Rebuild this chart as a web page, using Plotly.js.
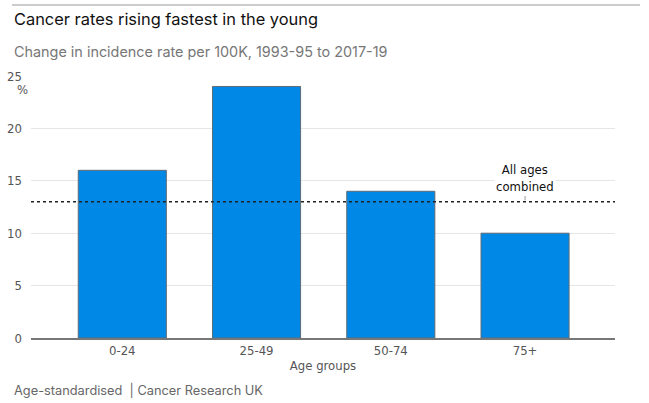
<!DOCTYPE html>
<html>
<head>
<meta charset="utf-8">
<script src="https://cdn.plot.ly/plotly-3.0.1.min.js"></script>
<style>
  html, body { margin: 0; padding: 0; background: #fff; }
  #chart { width: 649px; height: 403px; }
</style>
</head>
<body>
<div id="chart"></div>
<script>
// datos
const ageGroups = ['0-24', '25-49', '50-74', '75+'];
const changePct = [16, 24, 14, 10];
const allAgesCombined = 13;
const yTicks = [0, 5, 10, 15, 20, 25];

const narrow = '"Liberation Sans Narrow", "DejaVu Sans Condensed", Roboto, sans-serif';
const sans = 'Inter, Roboto, "Open Sans", sans-serif';

const bars = {
    type: 'bar',
    x: ageGroups,
    y: changePct,
    marker: { color: '#0088e6', line: { color: '#5f6b75', width: 1 } },
    hoverinfo: 'x+y'
};

const layout = {
    width: 649,
    height: 403,
    paper_bgcolor: '#fff',
    plot_bgcolor: '#fff',
    margin: { l: 31, r: 34, t: 76, b: 65 },
    bargap: 0.344,
    showlegend: false,
    font: { family: narrow, color: '#555', size: 13 },
    xaxis: {
        type: 'category',
        range: [-0.68, 3.67],
        showgrid: false,
        showline: true,
        linecolor: '#777',
        linewidth: 1.5,
        ticks: '',
        tickfont: { family: narrow, size: 13, color: '#555' },
        title: { text: 'Age groups', font: { family: narrow, size: 13, color: '#555' }, standoff: 4 },
        fixedrange: true
    },
    yaxis: {
        range: [0, 25],
        tickvals: yTicks,
        showgrid: true,
        gridcolor: '#e6e6e6',
        gridwidth: 1,
        zeroline: false,
        showline: false,
        ticks: '',
        ticklabelstandoff: 8,
        tickfont: { family: narrow, size: 13, color: '#555' },
        fixedrange: true
    },
    shapes: [
        {
            type: 'line', xref: 'paper', yref: 'y',
            x0: 0, x1: 1, y0: allAgesCombined, y1: allAgesCombined,
            line: { color: '#222', width: 1.5, dash: 'dot' },
            layer: 'above'
        },
        {
            type: 'line', xref: 'paper', yref: 'paper',
            x0: 12 / 584 - 31 / 584, x1: 640 / 584 - 31 / 584, y0: 1 + 71 / 262, y1: 1 + 71 / 262,
            line: { color: '#bbb', width: 1.5 }
        },
        {
            type: 'line', xref: 'x', yref: 'y',
            x0: 3, x1: 3, y0: allAgesCombined + 0.15, y1: allAgesCombined + 0.55,
            line: { color: '#999', width: 1 }
        }
    ],
    annotations: [
        {
            text: 'Cancer rates rising fastest in the young',
            xref: 'paper', yref: 'paper', x: -19 / 584, y: 1 + 57 / 262,
            xanchor: 'left', yanchor: 'middle', showarrow: false,
            font: { family: sans, size: 16.4, color: '#111' }
        },
        {
            text: 'Change in incidence rate per 100K, 1993-95 to 2017-19',
            xref: 'paper', yref: 'paper', x: -19 / 584, y: 1 + 24 / 262,
            xanchor: 'left', yanchor: 'middle', showarrow: false,
            font: { family: sans, size: 14.4, color: '#777' }
        },
        {
            text: '%',
            xref: 'paper', yref: 'paper', x: -9 / 584, y: 1 - 13 / 262,
            xanchor: 'center', yanchor: 'middle', showarrow: false,
            font: { family: narrow, size: 13, color: '#555' }
        },
        {
            text: 'All ages<br>combined',
            xref: 'x', yref: 'y', x: 3, y: allAgesCombined + 0.55,
            xanchor: 'center', yanchor: 'bottom', showarrow: false,
            bgcolor: '#fff',
            font: { family: narrow, size: 13, color: '#111' }
        },
        {
            text: 'Age-standardised  | Cancer Research UK',
            xref: 'paper', yref: 'paper', x: -19 / 584, y: -52 / 262,
            xanchor: 'left', yanchor: 'middle', showarrow: false,
            font: { family: sans, size: 12.8, color: '#666' }
        }
    ]
};

Plotly.newPlot('chart', [bars], layout, { displayModeBar: false, staticPlot: true });
</script>
</body>
</html>
